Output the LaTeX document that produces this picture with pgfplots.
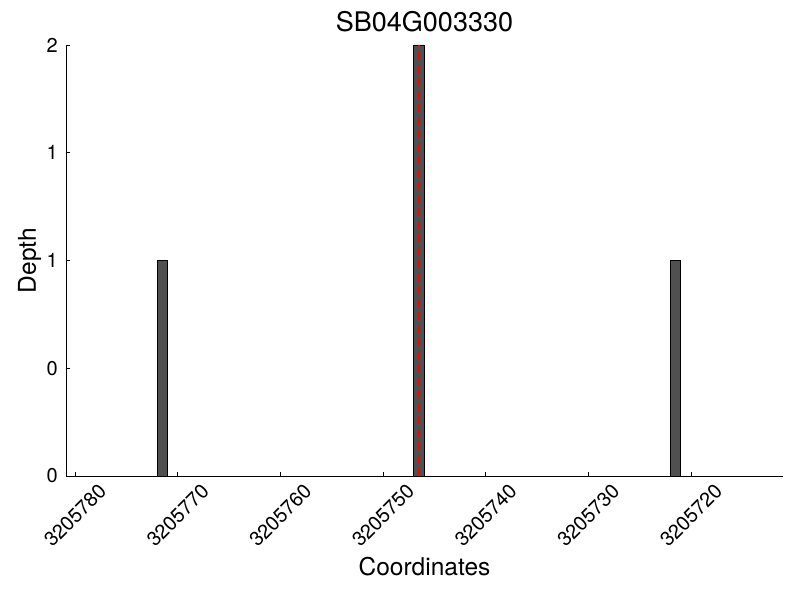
\documentclass[border=0pt]{standalone}
\usepackage{pgfplots}
\pgfplotsset{compat=1.18}
\usepackage{fontspec}
\setmainfont{TeX Gyre Heros}
\definecolor{barfill}{RGB}{80,80,80}

\begin{document}
\begin{tikzpicture}
  \path[use as bounding box] (-66pt,-124pt) rectangle (734pt,476pt);
  % x values are offsets from 3205700
  \begin{axis}[
      at={(0,0)}, anchor=south west,
      scale only axis, width=717pt, height=431pt,
      x dir=reverse,
      xmin=11.04, xmax=80.88, ymin=0, ymax=2,
      clip=false,
      axis lines*=left,
      axis line style={-, line width=0.8pt},
      tick align=inside, major tick length=4pt,
      tick style={black, line width=0.6pt},
      xtick={20,30,40,50,60,70,80},
      xticklabels={3205720,3205730,3205740,3205750,3205760,3205770,3205780},
      ytick={0,0.5,1,1.5,2},
      yticklabels={0,0,1,1,2},
      /pgf/number format/assume math mode=true,
      ticklabel style={font=\fontsize{20}{24}\selectfont},
      x tick label style={yshift=-39.5pt, rotate=45, anchor=center, inner sep=0pt},
      y tick label style={anchor=east, inner sep=0pt, xshift=-8pt},
      title={SB04G003330},
      title style={at={(axis description cs:0.5,1)}, anchor=base, yshift=7pt,
        font=\fontsize{27}{31}\selectfont},
      xlabel={Coordinates},
      xlabel style={at={(axis description cs:0.5,0)}, anchor=base, yshift=-99pt,
        font=\fontsize{24.5}{28}\selectfont},
      ylabel={Depth},
      ylabel style={at={([xshift=-30pt]axis description cs:0,0.5)}, anchor=base,
        font=\fontsize{24.5}{28}\selectfont},
    ]
    \addplot[ybar, bar width=1, fill=barfill, draw=black, line width=0.8pt]
      coordinates {(71.5,1) (46.5,2) (21.5,1)};
    \addplot[red, line width=1.8pt, dash pattern=on 8pt off 5pt]
      coordinates {(46.5,0) (46.5,2)};
  \end{axis}
\end{tikzpicture}
\end{document}
